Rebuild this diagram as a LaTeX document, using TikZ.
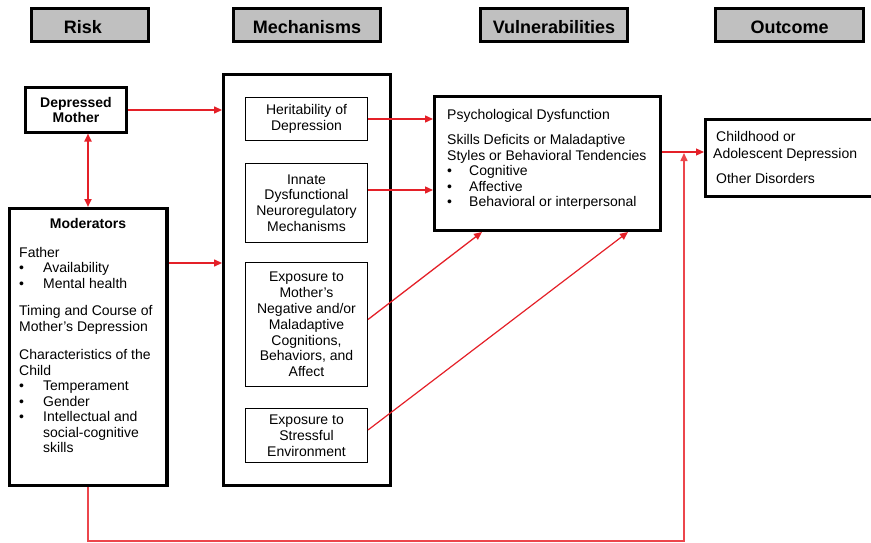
\documentclass[tikz,border=0pt]{standalone}
\usepackage{fontspec}
\setmainfont{Liberation Sans}
\usetikzlibrary{arrows.meta,calc}
\definecolor{arrred}{RGB}{228,32,40}
\definecolor{loopred}{RGB}{236,70,76}
\definecolor{hdrgray}{RGB}{192,192,192}
\newcommand{\bul}{\makebox[24pt][l]{\textbullet}}
\newcommand{\bulv}{\makebox[22pt][l]{\textbullet}}
\begin{document}
\begin{tikzpicture}[x=1pt,y=1pt,
  hdr/.style={draw=black,line width=3pt,fill=hdrgray,minimum height=33pt,inner sep=0pt,
    text height=18pt,text depth=0pt,font=\fontsize{18}{20}\selectfont\bfseries},
  bigbox/.style={draw=black,line width=3.3pt,inner sep=0pt},
  mechbox/.style={draw=black,line width=1pt,minimum width=122pt,inner sep=0pt,align=center,
    font=\fontsize{14}{15.8}\selectfont},
  txt/.style={inner sep=0pt,align=left,font=\fontsize{14}{15.5}\selectfont},
  tip/.style={-{Triangle[length=8pt,width=7pt]}},
  arr/.style={draw=arrred,line width=1.4pt,tip},
  darr/.style={draw=arrred,line width=2pt,{Triangle[length=8pt,width=7pt]}-{Triangle[length=8pt,width=7pt]}},
  looparr/.style={draw=loopred,line width=1.5pt,tip},
]
\useasboundingbox (0,0) rectangle (871,-543);

% headers
\node[hdr,minimum width=117pt] (hrisk) at (90,-25) {Risk\hspace*{14pt}};
\node[hdr,minimum width=147pt] (hmech) at (307,-25) {Mechanisms};
\node[hdr,minimum width=147pt] (hvul) at (554,-25) {Vulnerabilities};
\node[hdr,minimum width=148pt] (hout) at (789.5,-25) {Outcome};

% depressed mother
\node[bigbox,line width=3pt,minimum width=101pt,minimum height=44pt,align=center,
  font=\fontsize{14}{15.5}\selectfont\bfseries] (dm) at (76,-110) {Depressed\\Mother};

% moderators
\node[bigbox,minimum width=157.7pt,minimum height=276.7pt] (mod) at (88,-347) {};
\node[inner sep=0pt,font=\fontsize{14}{15.5}\selectfont\bfseries] (modtitle) at (88,-223) {Moderators};
\node[txt,anchor=north west] (modtxt) at (19,-247) {Father\\
\bul Availability\\
\bul Mental health\\[12pt]
Timing and Course of\\
Mother’s Depression\\[13pt]
Characteristics of the\\
Child\\
\bul Temperament\\
\bul Gender\\
\bul Intellectual and\\
\hspace*{24pt}social-cognitive\\
\hspace*{24pt}skills};

% mechanisms
\node[bigbox,minimum width=166.6pt,minimum height=410.6pt] (mech) at (307,-280) {};
\node[mechbox,minimum height=43pt] (her) at (306.5,-119) {Heritability of\\Depression};
\node[mechbox,minimum height=79pt] (inn) at (306.5,-203) {Innate\\Dysfunctional\\Neuroregulatory\\Mechanisms};
\node[mechbox,minimum height=124pt] (exm) at (306.5,-324.5) {Exposure to\\Mother’s\\Negative and/or\\Maladaptive\\Cognitions,\\Behaviors, and\\Affect};
\node[mechbox,minimum height=54pt] (str) at (306.5,-435.5) {Exposure to\\Stressful\\Environment};

% vulnerabilities
\node[bigbox,minimum width=225.7pt,minimum height=133.7pt] (vul) at (547.5,-163.5) {};
\node[txt,anchor=north west] (vultxt) at (447,-109) {Psychological Dysfunction\\[10pt]
Skills Deficits or Maladaptive\\
Styles or Behavioral Tendencies\\
\bulv Cognitive\\
\bulv Affective\\
\bulv Behavioral or interpersonal};

% outcome
\node[bigbox,minimum width=169.3pt,minimum height=76.7pt] (out) at (790.3,-158) {};
\node[txt,anchor=north west,font=\fontsize{14}{17}\selectfont] (outtxt) at (713,-131) {\hspace*{3pt}Childhood or\\
Adolescent Depression\\[8pt]
\hspace*{3pt}Other Disorders};

% connectors
\draw[arr] (dm.east) -- (dm.east -| mech.west);
\draw[darr] (dm.south -| mod.north) -- (mod.north);
\coordinate (m1) at (mod.east |- 0,-263);
\draw[arr] (m1) -- (m1 -| mech.west);
\draw[arr] (her.east) -- (her.east -| vul.west);
\draw[arr] ([yshift=13pt]inn.east) -- ([yshift=13pt]inn.east -| vul.west);
\draw[arr,line width=1.3pt] ([yshift=5pt]exm.east) -- ([xshift=49pt]vul.south west);
\draw[arr,line width=1.2pt] ([yshift=5.5pt]str.east) -- ([xshift=-34pt]vul.south east);
\coordinate (v1) at ([yshift=11.5pt]vul.east);
\draw[arr,line width=1.2pt] (v1) -- (v1 -| out.west);
\coordinate (j) at (684,-153);
\draw[looparr] (mod.south) -- ++(0,-54) -| (j);
\end{tikzpicture}
\end{document}
